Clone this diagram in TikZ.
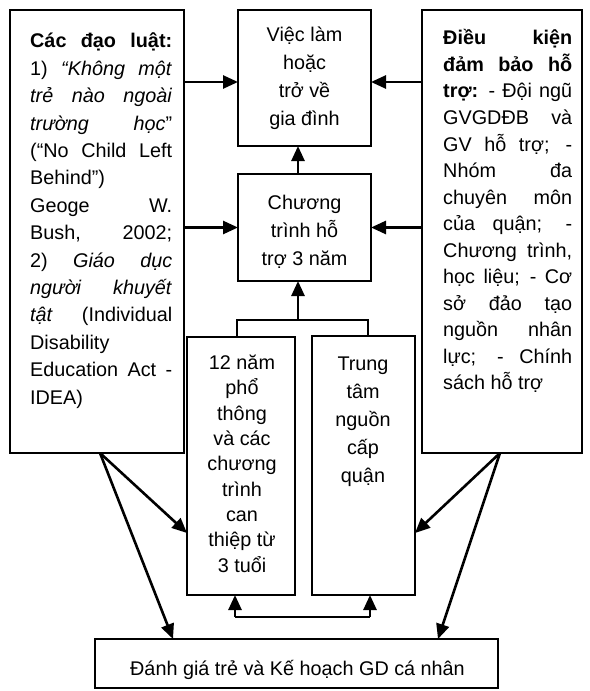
\documentclass[tikz,border=0pt]{standalone}
\usepackage{fontspec}
\setmainfont{Liberation Sans}
\usetikzlibrary{arrows.meta}
% a line of justified text, stretched to the given width
\newcommand\jl[2]{\makebox[#1][s]{#2}}
\begin{document}
\begin{tikzpicture}[x=1bp,y=-1bp,
  box/.style={draw, line width=2.8bp, inner sep=0pt, outer sep=0pt},
  words/.style={inner sep=0pt, font=\fontsize{19.8bp}{#1}\selectfont},
  arr/.style={line width=2.6bp, -{Triangle[length=15bp,width=13bp]}},
  link/.style={line width=2.6bp}]
\useasboundingbox (0,0) rectangle (590,691);
\fill[white] (0,0) rectangle (590,691);

% boxes
\node[box, minimum width=174bp, minimum height=443bp] (laws)   at (97,231.5)   {};
\node[box, minimum width=133bp, minimum height=136bp] (job)    at (304.5,78)   {};
\node[box, minimum width=133bp, minimum height=107bp] (prog)   at (304.5,227.5){};
\node[box, minimum width=160bp, minimum height=443bp] (cond)   at (502,231.5)  {};
\node[box, minimum width=108bp, minimum height=258bp] (school) at (241,466)    {};
\node[box, minimum width=103bp, minimum height=259bp] (centre) at (363.5,465.5){};
\node[box, minimum width=403bp, minimum height=49bp]  (plan)   at (296.5,663.5){};

% texts (each placed by the baseline of its last line)
\node[words=27.4bp, align=left, anchor=base west] (lawstext) at (30,404) {%
  \jl{142bp}{\textbf{Các đạo luật:}}\\
  \jl{142bp}{1) \textit{“Không một}}\\
  \jl{142bp}{\textit{trẻ nào ngoài}}\\
  \jl{142bp}{\textit{trường học}”}\\
  \jl{142bp}{(“No Child Left}\\
  Behind”)\\
  \jl{142bp}{Geoge W.}\\
  \jl{142bp}{Bush, 2002;}\\
  \jl{142bp}{2) \textit{Giáo dục}}\\
  \jl{142bp}{\textit{người khuyết}}\\
  \jl{142bp}{\textit{tật} (Individual}\\
  Disability\\
  \jl{142bp}{Education Act -}\\
  IDEA)};

\node[words=26.5bp, align=left, anchor=base west] (condtext) at (443,389.5) {%
  \jl{129bp}{\textbf{Điều kiện}}\\
  \jl{129bp}{\textbf{đảm bảo hỗ}}\\
  \jl{129bp}{\textbf{trợ:} - Đội ngũ}\\
  \jl{129bp}{GVGDĐB và}\\
  \jl{129bp}{GV hỗ trợ; -}\\
  \jl{129bp}{Nhóm đa}\\
  \jl{129bp}{chuyên môn}\\
  \jl{129bp}{của quận; -}\\
  \jl{129bp}{Chương trình,}\\
  \jl{129bp}{học liệu; - Cơ}\\
  \jl{129bp}{sở đảo tạo}\\
  \jl{129bp}{nguồn nhân}\\
  \jl{129bp}{lực; - Chính}\\
  sách hỗ trợ};

\node[words=28bp, align=center, anchor=base] (jobtext) at (304.5,126)
  {Việc làm\\hoặc\\trở về\\gia đình};
\node[words=28bp, align=center, anchor=base] (progtext) at (304.5,265)
  {Chương\\trình hỗ\\trợ 3 năm};
\node[words=25.3bp, align=center, anchor=base] (schooltext) at (242,572)
  {12 năm\\phổ\\thông\\và các\\chương\\trình\\can\\thiệp từ\\3 tuổi};
\node[words=28bp, align=center, anchor=base] (centretext) at (363,482)
  {Trung\\tâm\\nguồn\\cấp\\quận};
\node[words=28bp, anchor=base] (plantext) at (297.5,675)
  {Đánh giá trẻ và Kế hoạch GD cá nhân};

% helper points for the connectors
\coordinate (toprow) at (0,82);
\coordinate (up)     at (298,0);
\coordinate (bl)     at (237,320);
\coordinate (bm)     at (298,320);
\coordinate (br)     at (368,320);
\coordinate (ql)     at (235,617);
\coordinate (qr)     at (370,617);
\coordinate (lo)     at (100,0);
\coordinate (ro)     at (500,0);
\coordinate (mid)    at (0,533);
\coordinate (pl)     at (173,0);
\coordinate (pr)     at (438,0);

% horizontal arrows into the two upper centre boxes
\draw[arr] (laws.east |- toprow) -- (job.west |- toprow);
\draw[arr] (cond.west |- toprow) -- (job.east |- toprow);
\draw[arr] (laws.east |- prog.west) -- (prog.west);
\draw[arr] (cond.west |- prog.east) -- (prog.east);
\draw[arr] (prog.north -| up) -- (job.south -| up);

% bracket joining the two lower boxes to the support programme
\draw[link] (school.north -| bl) -- (bl) -- (br) -- (centre.north -| br);
\draw[arr] (bm) -- (prog.south -| bm);

% bracket from the bottom up to the two lower boxes
\draw[link] (ql) -- (qr);
\draw[arr] (ql) -- (school.south -| ql);
\draw[arr] (qr) -- (centre.south -| qr);

% diagonal arrows from the side boxes
\draw[arr] (laws.south -| lo) -- (school.west |- mid);
\draw[arr] (laws.south -| lo) -- (plan.north -| pl);
\draw[arr] (cond.south -| ro) -- (centre.east |- mid);
\draw[arr] (cond.south -| ro) -- (plan.north -| pr);
\end{tikzpicture}
\end{document}
